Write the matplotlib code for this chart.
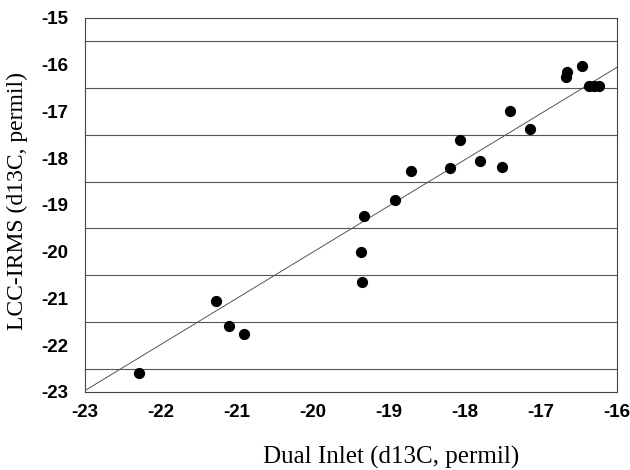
import numpy as np
import matplotlib
matplotlib.use("Agg")
import matplotlib.pyplot as plt

# values
dual_inlet = [-22.29, -21.27, -21.10, -20.91, -19.37, -19.36, -19.33, -18.92,
              -18.71, -18.19, -18.07, -17.80, -17.51, -17.41, -17.14,
              -16.67, -16.66, -16.46, -16.36, -16.30, -16.24]
lcc_irms = [-22.59, -21.05, -21.58, -21.77, -20.01, -20.65, -19.23, -18.89,
            -18.27, -18.20, -17.61, -18.06, -18.18, -17.00, -17.37,
            -16.27, -16.15, -16.04, -16.45, -16.45, -16.45]

trend_slope = 0.987
trend_intercept = -0.268

x_ticks = [-23, -22, -21, -20, -19, -18, -17, -16]
y_ticks = [-15, -16, -17, -18, -19, -20, -21, -22, -23]
grid_levels = [-15.5, -16.5, -17.5, -18.5, -19.5, -20.5, -21.5, -22.5]

fig = plt.figure(figsize=(6.3, 4.7), dpi=100)
ax = fig.add_axes([0.135, 0.166, 0.844, 0.796])

xl = np.array([-23, -16])
ax.plot(xl, trend_slope * xl + trend_intercept, color="#555555", lw=0.7, zorder=2)

ax.scatter(dual_inlet, lcc_irms, s=50, color="black", zorder=3)

ax.set_xlim(-23, -16)
ax.set_ylim(-23, -15)
ax.set_xticks(x_ticks)
ax.set_yticks(y_ticks)
ax.set_xticklabels([str(v) for v in x_ticks], fontweight="bold",
                   fontfamily="Liberation Sans", fontsize=13.5)
ax.set_yticklabels([str(v) for v in y_ticks], fontweight="bold",
                   fontfamily="Liberation Sans", fontsize=13.5)
ax.tick_params(axis="y", length=0, pad=12)
ax.tick_params(axis="x", length=0, pad=9)

for g in grid_levels:
    ax.axhline(g, color="#555555", lw=0.8, zorder=1)

for sp in ax.spines.values():
    sp.set_linewidth(0.8)
    sp.set_color("#444444")

ax.set_xlabel("Dual Inlet (d13C, permil)", fontfamily="Liberation Serif",
              fontsize=18)
ax.xaxis.set_label_coords(0.575, -0.145)
ax.set_ylabel("LCC-IRMS (d13C, permil)", fontfamily="Liberation Serif",
              fontsize=17)
ax.yaxis.set_label_coords(-0.108, 0.51)

fig.savefig("out.png", dpi=100)
